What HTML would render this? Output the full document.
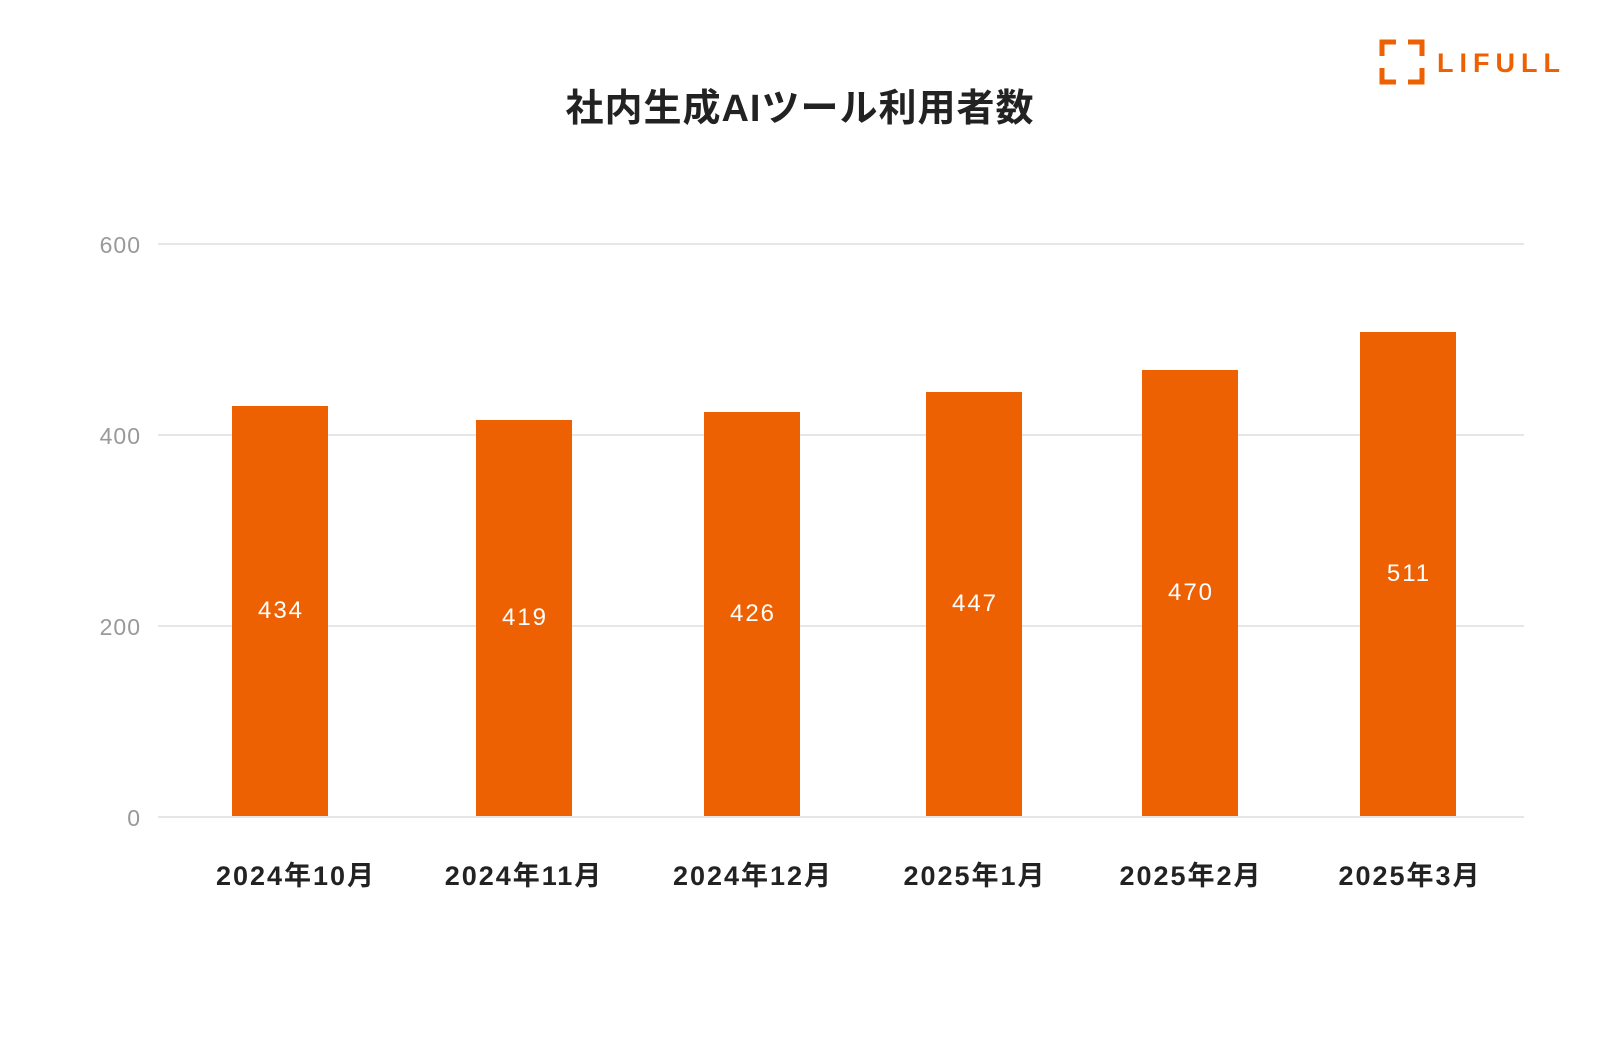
<!DOCTYPE html>
<html><head><meta charset="utf-8"><style>
body{margin:0;width:1600px;height:1050px;background:#fff;overflow:hidden;font-family:"Liberation Sans","Noto Sans CJK JP",sans-serif}
</style></head><body>
<svg width="1600" height="1050" xmlns="http://www.w3.org/2000/svg" style="position:absolute;left:0;top:0">
<g fill="none" stroke="#EE6103" stroke-width="5">
<path d="M1396 42H1382V56"/><path d="M1408 42H1422V56"/><path d="M1382 68V82H1396"/><path d="M1422 68V82H1408"/>
</g>
<text x="1437" y="72" fill="#EE6103" font-size="27" font-weight="bold" letter-spacing="6" font-family="Liberation Sans, sans-serif">LIFULL</text>
<text x="800" y="121" text-anchor="middle" font-size="38" font-weight="bold" letter-spacing="1" fill="#222" font-family="Liberation Sans, Noto Sans CJK JP, sans-serif">社内生成AIツール利用者数</text>
<g stroke="#e6e6e6" stroke-width="2">
<line x1="158" y1="244" x2="1524" y2="244"/><line x1="158" y1="435" x2="1524" y2="435"/>
<line x1="158" y1="626" x2="1524" y2="626"/><line x1="158" y1="817" x2="1524" y2="817"/>
</g>
<g fill="#999" font-size="23" text-anchor="end" letter-spacing="1">
<text x="141" y="253">600</text><text x="141" y="444">400</text><text x="141" y="635">200</text><text x="141" y="826">0</text>
</g>
<g fill="#EE6103">
<rect x="232" y="406" width="96" height="410"/>
<rect x="476" y="420" width="96" height="396"/>
<rect x="704" y="412" width="96" height="404"/>
<rect x="926" y="392" width="96" height="424"/>
<rect x="1142" y="370" width="96" height="446"/>
<rect x="1360" y="332" width="96" height="484"/>
</g>
<g fill="#fff" font-size="24" text-anchor="middle" letter-spacing="2">
<text x="281" y="618">434</text><text x="525" y="625">419</text><text x="753" y="621">426</text>
<text x="975" y="611">447</text><text x="1191" y="600">470</text><text x="1409" y="581">511</text>
</g>
<g fill="#222" font-size="27" font-weight="bold" text-anchor="middle" letter-spacing="2" font-family="Liberation Sans, Noto Sans CJK JP, sans-serif">
<text x="296" y="885">2024年10月</text><text x="524" y="885">2024年11月</text><text x="753" y="885">2024年12月</text>
<text x="975" y="885">2025年1月</text><text x="1191" y="885">2025年2月</text><text x="1410" y="885">2025年3月</text>
</g>
</svg>
</body></html>
